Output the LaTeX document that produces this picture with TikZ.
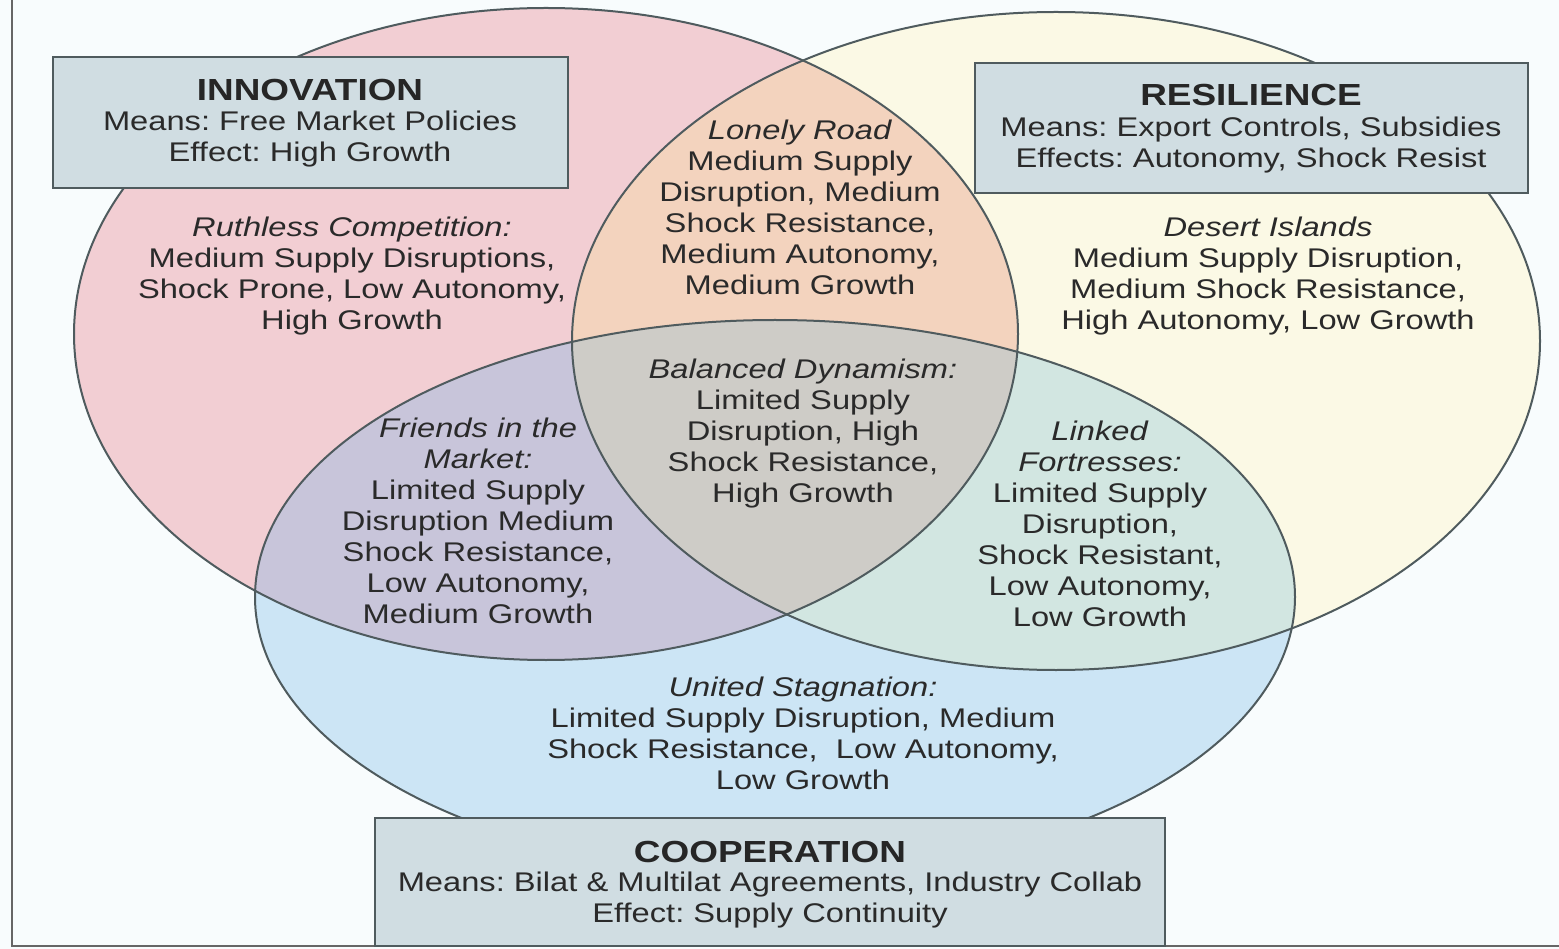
\documentclass[tikz,border=0pt]{standalone}
\usepackage{fontspec}
\setmainfont{Liberation Sans}[FakeStretch=1.21]
\frenchspacing

\definecolor{bgc}{HTML}{F8FCFD}
\definecolor{innoc}{HTML}{F2CED3}
\definecolor{resic}{HTML}{FBF9E5}
\definecolor{coopc}{HTML}{CCE5F5}
\definecolor{innoresic}{HTML}{F3D3BE}
\definecolor{innocoopc}{HTML}{C8C5DA}
\definecolor{resicoopc}{HTML}{D2E6E1}
\definecolor{allc}{HTML}{CECCC7}
\definecolor{boxc}{HTML}{D0DDE2}
\definecolor{linec}{HTML}{4F5B5E}
\definecolor{txtc}{HTML}{2A2A2A}

\tikzset{
  innoshape/.style={insert path={(546,334) ellipse [x radius=472, y radius=326]}},
  resishape/.style={insert path={(1056,341) ellipse [x radius=484, y radius=329]}},
  coopshape/.style={insert path={(775,597) ellipse [x radius=520, y radius=277]}},
  ring/.style={draw=linec, line width=2},
  zone/.style={align=center, text=txtc, inner sep=0, font=\fontsize{27}{31}\selectfont},
  goalbox/.style={draw=linec, line width=2, fill=boxc, inner sep=0},
  goaltitle/.style={text=black!85, inner sep=0, font=\fontsize{30.5}{34}\selectfont\bfseries}
}

\begin{document}
\begin{tikzpicture}[x=1pt, y=-1pt]
  \useasboundingbox (0,0) rectangle (1559,949);
  \fill[bgc] (0,0) rectangle (1559,949);
  \draw[draw=gray!80!black, line width=2] (12,-10) |- (1570,946);

  % circles
  \fill[innoc, innoshape];
  \fill[resic, resishape];
  \begin{scope}
    \clip[innoshape];
    \fill[innoresic, resishape];
  \end{scope}
  \fill[coopc, coopshape];
  \begin{scope}
    \clip[coopshape];
    \fill[innocoopc, innoshape];
    \fill[resicoopc, resishape];
    \clip[innoshape];
    \fill[allc, resishape];
  \end{scope}
  \path[ring, innoshape];
  \path[ring, resishape];
  \path[ring, coopshape];

  % goals
  \node[goalbox, minimum width=515, minimum height=131] (innobox) at (310.5,122.5) {};
  \node[goaltitle] (innotitle) at (310,90) {INNOVATION};
  \node[zone] (innotext) at (310,139.5) {Means: Free Market Policies\\Effect: High Growth};

  \node[goalbox, minimum width=553, minimum height=130] (resibox) at (1251.5,128) {};
  \node[goaltitle] (resititle) at (1251,95) {RESILIENCE};
  \node[zone] (resitext) at (1251,145.5) {Means: Export Controls, Subsidies\\Effects: Autonomy, Shock Resist};

  \node[goalbox, minimum width=790, minimum height=128] (coopbox) at (770,882) {};
  \node[goaltitle] (cooptitle) at (770,852) {COOPERATION};
  \node[zone] (cooptext) at (770,900.5) {Means: Bilat \& Multilat Agreements, Industry Collab\\Effect: Supply Continuity};

  % scenarios
  \node[zone] (ruthless) at (352,276) {\textit{Ruthless Competition:}\\Medium Supply Disruptions,\\Shock Prone, Low Autonomy,\\High Growth};
  \node[zone] (lonely) at (800,207) {\textit{Lonely Road}\\Medium Supply\\Disruption, Medium\\Shock Resistance,\\Medium Autonomy,\\Medium Growth};
  \node[zone] (desert) at (1268,276) {\textit{Desert Islands}\\Medium Supply Disruption,\\Medium Shock Resistance,\\High Autonomy, Low Growth};
  \node[zone] (balanced) at (803,434) {\textit{Balanced Dynamism:}\\Limited Supply\\Disruption, High\\Shock Resistance,\\High Growth};
  \node[zone] (friends) at (478,520.5) {\textit{Friends in the}\\\textit{Market:}\\Limited Supply\\Disruption Medium\\Shock Resistance,\\Low Autonomy,\\Medium Growth};
  \node[zone] (linked) at (1100,524) {\textit{Linked}\\\textit{Fortresses:}\\Limited Supply\\Disruption,\\Shock Resistant,\\Low Autonomy,\\Low Growth};
  \node[zone] (united) at (803,733.5) {\textit{United Stagnation:}\\Limited Supply Disruption, Medium\\Shock Resistance,\ \ Low Autonomy,\\Low Growth};
\end{tikzpicture}
\end{document}
